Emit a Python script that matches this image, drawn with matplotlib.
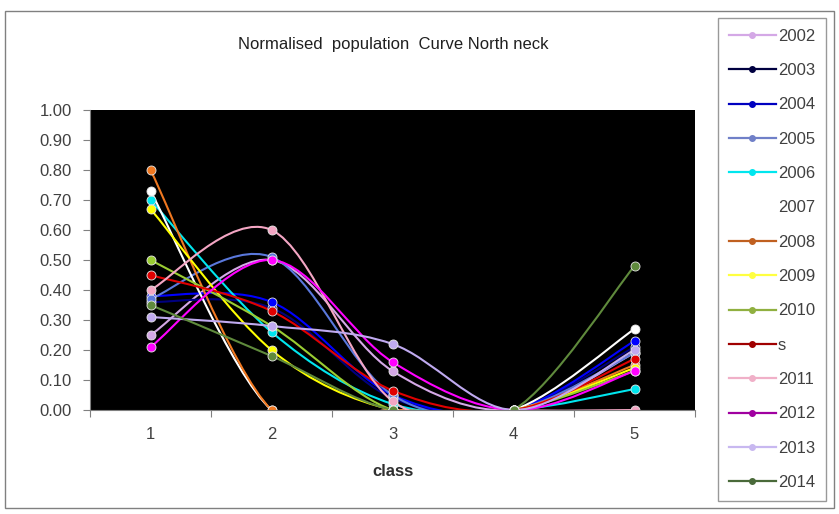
import numpy as np
import matplotlib.pyplot as plt
from matplotlib.path import Path
from matplotlib.patches import PathPatch, Rectangle
from matplotlib.lines import Line2D

plt.rcParams['font.family'] = ['Liberation Sans', 'DejaVu Sans']

# data
classes = [1, 2, 3, 4, 5]
series_names = ["2002", "2003", "2004", "2005", "2006", "2007", "2008",
                "2009", "2010", "s", "2011", "2012", "2013", "2014"]
v2002 = [0.25, 0.50, 0.13, 0.00, 0.19]
v2003 = [0.36, 0.34, 0.04, 0.00, 0.21]
v2004 = [0.38, 0.36, 0.05, 0.00, 0.23]
v2005 = [0.37, 0.51, 0.05, 0.00, 0.19]
v2006 = [0.70, 0.26, 0.02, 0.00, 0.07]
v2007 = [0.73, 0.00, 0.00, 0.00, 0.27]
v2008 = [0.80, 0.00, 0.00, 0.00, 0.15]
v2009 = [0.67, 0.20, 0.00, 0.00, 0.14]
v2010 = [0.50, 0.28, 0.00, 0.00, 0.13]
v_s = [0.45, 0.33, 0.065, 0.00, 0.17]
v2011 = [0.40, 0.60, 0.03, 0.00, 0.00]
v2012 = [0.21, 0.50, 0.16, 0.00, 0.13]
v2013 = [0.31, 0.28, 0.22, 0.00, 0.20]
v2014 = [0.35, 0.18, 0.00, 0.00, 0.48]
all_values = [v2002, v2003, v2004, v2005, v2006, v2007, v2008,
              v2009, v2010, v_s, v2011, v2012, v2013, v2014]

line_colors = ["#d4a8e6", "#000080", "#0000ff", "#5a78dc", "#00e6ee", "#ffffff",
               "#f07820", "#ffff00", "#9acd32", "#e00000", "#f4a6c4", "#ff00ff",
               "#c0aaf0", "#5f8a3c"]
legend_line_colors = ["#d4a8e6", "#000040", "#0000c0", "#7080c8", "#00e6ee", "#ffffff",
                      "#c06020", "#ffff40", "#90b040", "#a00000", "#f0b0c8", "#a000a0",
                      "#c8b8f0", "#4a6a3a"]


def smooth_path(xs, ys):
    # excel style smoothed line: bezier segments through every point
    pts = np.column_stack([xs, ys]).astype(float)
    ext = np.vstack([pts[0], pts, pts[-1]])
    verts = [pts[0]]
    codes = [Path.MOVETO]
    for i in range(len(pts) - 1):
        p0, p1, p2, p3 = ext[i], ext[i + 1], ext[i + 2], ext[i + 3]
        verts += [p1 + (p2 - p0) / 6, p2 - (p3 - p1) / 6, p2]
        codes += [Path.CURVE4] * 3
    return Path(verts, codes)


fig = plt.figure(figsize=(8.39, 5.14), dpi=100)
ax = fig.add_axes([90 / 839, 104 / 514, 605 / 839, 300 / 514])
ax.set_facecolor("black")

for vals, col in zip(all_values, line_colors):
    ax.add_patch(PathPatch(smooth_path(classes, vals), fill=False,
                           edgecolor=col, linewidth=1.5))
    ax.plot(classes, vals, linestyle="none", marker="o", markersize=6.5,
            color=col, markeredgewidth=0.6, markeredgecolor="#e8e8e8")

ax.set_xlim(0.5, 5.5)
ax.set_ylim(0, 1)
ax.set_yticks(np.arange(0, 1.01, 0.1))
ax.set_yticklabels([f"{t:.2f}" for t in np.arange(0, 1.01, 0.1)])
ax.set_xticks(np.arange(0.5, 5.6, 1.0))
ax.set_xticklabels([])
ax.set_xticks(classes, minor=True)
ax.set_xticklabels([str(c) for c in classes], minor=True)
ax.tick_params(axis="x", which="minor", length=0, pad=12, labelsize=12, labelcolor="#404040")
ax.tick_params(axis="x", which="major", length=5, color="#808080", direction="out")
ax.tick_params(axis="y", length=5, color="#808080", labelsize=12, labelcolor="#404040", pad=8)
for side in ["top", "right"]:
    ax.spines[side].set_visible(False)
for side in ["left", "bottom"]:
    ax.spines[side].set_color("#808080")

fig.text(393 / 839, 1 - 45 / 514, "Normalised  population  Curve North neck",
         ha="center", va="center", fontsize=12, color="#202020")
fig.text(393 / 839, 1 - 472 / 514, "class", ha="center", va="center",
         fontsize=12, fontweight="bold", color="#303030")

handles = [Line2D([], [], color=c, marker="o", markersize=4, linewidth=1.6)
           for c in legend_line_colors]
leg = fig.legend(handles, series_names, loc="upper left",
                 bbox_to_anchor=(718 / 839, 1 - 18 / 514), fontsize=12,
                 frameon=True, fancybox=False, edgecolor="#808080",
                 handlelength=2.8, handletextpad=0.15, labelspacing=1.16,
                 borderpad=0.65, borderaxespad=0)
leg.get_frame().set_linewidth(1.0)
for t in leg.get_texts():
    t.set_color("#404040")

fig.patches.append(Rectangle((5 / 839, 6 / 514), 829 / 839, 497 / 514,
                             transform=fig.transFigure, fill=False,
                             edgecolor="#808080", linewidth=1.0))

fig.savefig("out.png", dpi=100)
